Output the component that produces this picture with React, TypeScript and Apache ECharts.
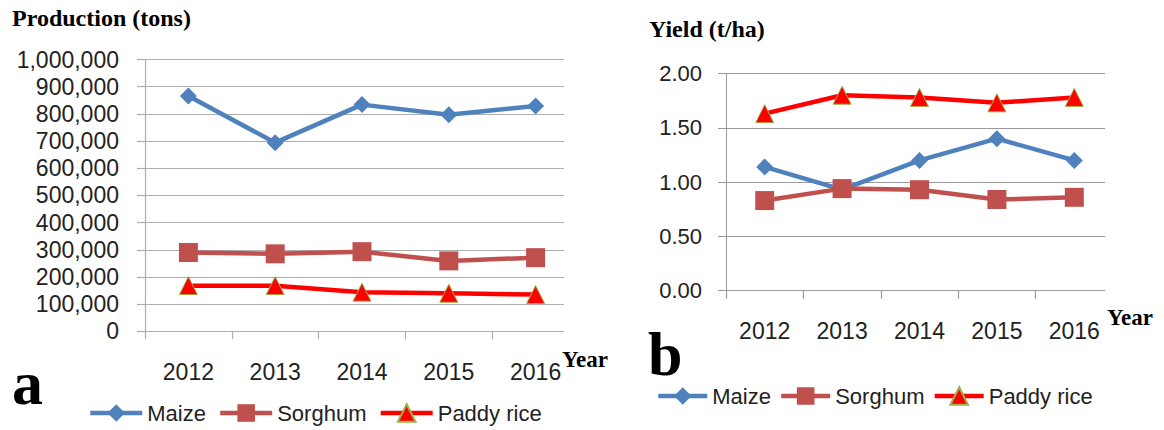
import React, { useEffect, useRef } from 'react';
import * as echarts from 'echarts';

const years = ['2012', '2013', '2014', '2015', '2016'];
const seriesNames = ['Maize', 'Sorghum', 'Paddy rice'];
const prodMaize = [866000, 694000, 834000, 797000, 829000];
const prodSorghum = [290000, 285000, 293000, 259000, 271000];
const prodPaddy = [168000, 168000, 144000, 140000, 135000];
const yieldMaize = [1.14, 0.93, 1.2, 1.4, 1.2];
const yieldSorghum = [0.83, 0.94, 0.93, 0.84, 0.86];
const yieldPaddy = [1.63, 1.8, 1.78, 1.73, 1.78];
const prodTicks = { min: 0, max: 1000000, interval: 100000 };
const yieldTicks = { min: 0, max: 2, interval: 0.5 };

const SANS = 'Liberation Sans';
const SERIF = 'Liberation Serif';
const MAIZE = '#4F81BD';
const SORGHUM = '#C0504D';
const PADDY = '#FF0000';

const styles = [
  { color: MAIZE, symbol: 'diamond', size: 17 },
  { color: SORGHUM, symbol: 'rect', size: 19 },
  { color: PADDY, symbol: 'triangle', size: 18 },
];

function makeSeries(data: number[], idx: number, axis: number) {
  const s = styles[idx];
  return {
    name: seriesNames[idx],
    type: 'line',
    xAxisIndex: axis,
    yAxisIndex: axis,
    data,
    symbol: s.symbol,
    symbolSize: s.size,
    showAllSymbol: true,
    lineStyle: { color: s.color, width: 4.5 },
    itemStyle: idx === 2
      ? { color: s.color, borderColor: '#9BB04A', borderWidth: 1 }
      : { color: s.color, borderWidth: 0 },
    emphasis: { disabled: true },
  };
}

export default function App() {
  const ref = useRef<HTMLDivElement>(null);
  useEffect(() => {
    if (!ref.current) return;
    const chart = echarts.init(ref.current, undefined, { renderer: 'svg' });
    const gridColorL = '#ADADAD';
    const gridColorR = '#9A9A9A';
    const xAxisCommon = (gi: number, color: string) => ({
      type: 'category',
      gridIndex: gi,
      data: years,
      boundaryGap: true,
      axisLine: { show: true, lineStyle: { color, width: 1.2 } },
      axisTick: { show: true, length: 8, lineStyle: { color, width: 1.2 } },
      axisLabel: { margin: 29, fontSize: 23, color: '#222', fontFamily: SANS },
      splitLine: { show: false },
    });
    const legendCommon = {
      itemHeight: 22,
      data: seriesNames,
      selectedMode: false,
      padding: 0,
      lineStyle: { width: 4.5 },
      textStyle: { fontSize: 22, color: '#222', fontFamily: SANS },
    };
    const option = {
      animation: false,
      backgroundColor: '#fff',
      grid: [
        { left: 145, top: 59.5, width: 434, height: 271.8 },
        { left: 726, top: 73.5, width: 387, height: 217.2 },
      ],
      xAxis: [xAxisCommon(0, gridColorL), xAxisCommon(1, gridColorR)],
      yAxis: [
        {
          type: 'value',
          gridIndex: 0,
          ...prodTicks,
          axisLine: { show: true, lineStyle: { color: gridColorL, width: 1.2 } },
          axisTick: { show: true, length: 8, lineStyle: { color: gridColorL, width: 1.2 } },
          axisLabel: {
            margin: 26,
            fontSize: 23,
            color: '#222',
            fontFamily: SANS,
            formatter: (v: number) => v.toLocaleString('en-US'),
          },
          splitLine: { show: true, lineStyle: { color: gridColorL, width: 1.2 } },
        },
        {
          type: 'value',
          gridIndex: 1,
          ...yieldTicks,
          axisLine: { show: true, lineStyle: { color: gridColorR, width: 1 } },
          axisTick: { show: true, length: 8, lineStyle: { color: gridColorR, width: 1 } },
          axisLabel: {
            margin: 24,
            fontSize: 22,
            color: '#222',
            fontFamily: SANS,
            formatter: (v: number) => v.toFixed(2),
          },
          splitLine: { show: true, lineStyle: { color: gridColorR, width: 1 } },
        },
      ],
      legend: [
        { ...legendCommon, left: 88, top: 402, itemWidth: 52, itemGap: 12 },
        { ...legendCommon, left: 656, top: 385, itemWidth: 49, itemGap: 8 },
      ],
      series: [
        makeSeries(prodMaize, 0, 0),
        makeSeries(prodSorghum, 1, 0),
        makeSeries(prodPaddy, 2, 0),
        makeSeries(yieldMaize, 0, 1),
        makeSeries(yieldSorghum, 1, 1),
        makeSeries(yieldPaddy, 2, 1),
      ],
      graphic: [
        { type: 'rect', z: 100, shape: { x: 564, y: 50, width: 20, height: 292 }, style: { fill: '#fff' } },
        { type: 'rect', z: 100, shape: { x: 1105, y: 65, width: 12, height: 236 }, style: { fill: '#fff' } },
        {
          type: 'text', z: 101, x: 12, y: 18,
          style: { text: 'Production (tons)', font: `bold 24px "${SERIF}"`, fill: '#000', verticalAlign: 'middle' },
        },
        {
          type: 'text', z: 101, x: 649, y: 28.6,
          style: { text: 'Yield (t/ha)', font: `bold 24px "${SERIF}"`, fill: '#000', verticalAlign: 'middle' },
        },
        {
          type: 'text', z: 101, x: 562, y: 359,
          style: { text: 'Year', font: `bold 23px "${SERIF}"`, fill: '#000', verticalAlign: 'middle' },
        },
        {
          type: 'text', z: 101, x: 1107, y: 317,
          style: { text: 'Year', font: `bold 23px "${SERIF}"`, fill: '#000', verticalAlign: 'middle' },
        },
        {
          type: 'text', z: 101, x: 12, y: 383,
          style: { text: 'a', font: `bold 62px "${SERIF}"`, fill: '#000', verticalAlign: 'middle' },
        },
        {
          type: 'text', z: 101, x: 648, y: 354,
          style: { text: 'b', font: `bold 62px "${SERIF}"`, fill: '#000', verticalAlign: 'middle' },
        },
      ],
    };
    chart.setOption(option as any);
    return () => chart.dispose();
  }, []);
  return (
    <div
      ref={ref}
      style={{ position: 'fixed', left: 0, top: 0, width: 1164, height: 430, background: '#fff' }}
    />
  );
}
